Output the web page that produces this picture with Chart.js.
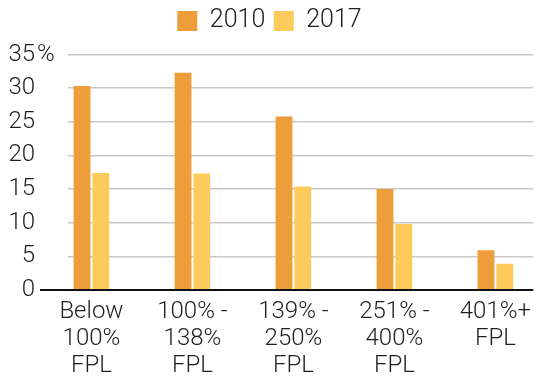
<!DOCTYPE html>
<html>
<head>
<meta charset="utf-8">
<script src="https://cdn.jsdelivr.net/npm/chart.js@4"></script>
<style>
    html, body { margin: 0; padding: 0; background: #fff; }
    #wrap { width: 539px; height: 378px; position: relative; }
</style>
</head>
<body>
<div id="wrap"><canvas id="fplChart"></canvas></div>
<script>
// Share of people by income group (% of federal poverty level)
const categories = [
    ['Below', '100%', 'FPL'],
    ['100% -', '138%', 'FPL'],
    ['139% -', '250%', 'FPL'],
    ['251% -', '400%', 'FPL'],
    ['401%+', 'FPL']
];
const years = ['2010', '2017'];
const values2010 = [30.3, 32.3, 25.8, 15.0, 5.9];
const values2017 = [17.4, 17.3, 15.4, 9.8, 3.9];
const yTicks = [0, 5, 10, 15, 20, 25, 30, 35];

const FONT = "'Roboto', sans-serif";
const WEIGHT = 300;
const TEXT = '#1e1e1e';
const TICK_LEN = 28;
const TICK_PAD = 5;

// bars sit on a linear x scale so the groups can be placed off-centre
function toPoints(arr) {
    return arr.map((v, i) => ({ x: i, y: v }));
}

// "%" unit after the top y label
const unitPlugin = {
    id: 'unitPlugin',
    afterDraw(chart) {
        const s = chart.scales.y;
        const ctx = chart.ctx;
        ctx.save();
        ctx.font = WEIGHT + ' 24px ' + FONT;
        ctx.fillStyle = TEXT;
        ctx.textAlign = 'left';
        ctx.textBaseline = 'middle';
        ctx.fillText('%', s.right - TICK_LEN - TICK_PAD + 2, s.getPixelForValue(s.max));
        ctx.restore();
    }
};

const ctx = document.getElementById('fplChart').getContext('2d');
new Chart(ctx, {
    type: 'bar',
    data: {
        datasets: [
            {
                label: years[0],
                data: toPoints(values2010),
                backgroundColor: '#EE9D3B',
                barPercentage: 0.895,
                categoryPercentage: 0.372
            },
            {
                label: years[1],
                data: toPoints(values2017),
                backgroundColor: '#FDCB5B',
                barPercentage: 0.895,
                categoryPercentage: 0.372
            }
        ]
    },
    options: {
        responsive: true,
        maintainAspectRatio: false,
        animation: false,
        layout: { padding: { top: 0, bottom: 0, left: 0, right: 0 } },
        plugins: {
            legend: {
                position: 'top',
                labels: {
                    boxWidth: 20,
                    boxHeight: 20,
                    padding: 8.5,
                    color: TEXT,
                    font: { family: FONT, size: 25, weight: WEIGHT }
                }
            },
            // empty title with low weight = gap between legend and plot
            title: {
                display: true,
                text: '',
                weight: 500,
                font: { size: 1, lineHeight: 1 },
                padding: { top: 0, bottom: 10 }
            },
            tooltip: { enabled: false }
        },
        scales: {
            x: {
                type: 'linear',
                min: -0.232,
                max: 4.375,
                offset: false,
                grid: { display: false, drawTicks: false, offset: false },
                border: { display: false },
                afterFit: s => { s.height = 88; },
                afterBuildTicks: s => { s.ticks = categories.map((_, i) => ({ value: i })); },
                ticks: {
                    autoSkip: false,
                    maxRotation: 0,
                    padding: 8,
                    color: TEXT,
                    font: { family: FONT, size: 24, weight: WEIGHT, lineHeight: 27 / 24 },
                    callback: v => categories[v]
                }
            },
            y: {
                min: 0,
                max: 35,
                afterFit: s => { s.width = 68; },
                afterBuildTicks: s => { s.ticks = yTicks.map(v => ({ value: v })); },
                border: { display: false },
                grid: {
                    drawTicks: true,
                    tickLength: TICK_LEN,
                    color: c => c.tick.value === 0 ? '#111' : '#c9c9c9',
                    lineWidth: c => c.tick.value === 0 ? 2 : 1.5,
                    tickColor: c => c.tick.value === 0 ? '#111' : 'rgba(0,0,0,0)',
                    tickWidth: c => c.tick.value === 0 ? 2 : 1
                },
                ticks: {
                    autoSkip: false,
                    padding: TICK_PAD,
                    color: TEXT,
                    font: { family: FONT, size: 24, weight: WEIGHT }
                }
            }
        }
    },
    plugins: [unitPlugin]
});
</script>
</body>
</html>
